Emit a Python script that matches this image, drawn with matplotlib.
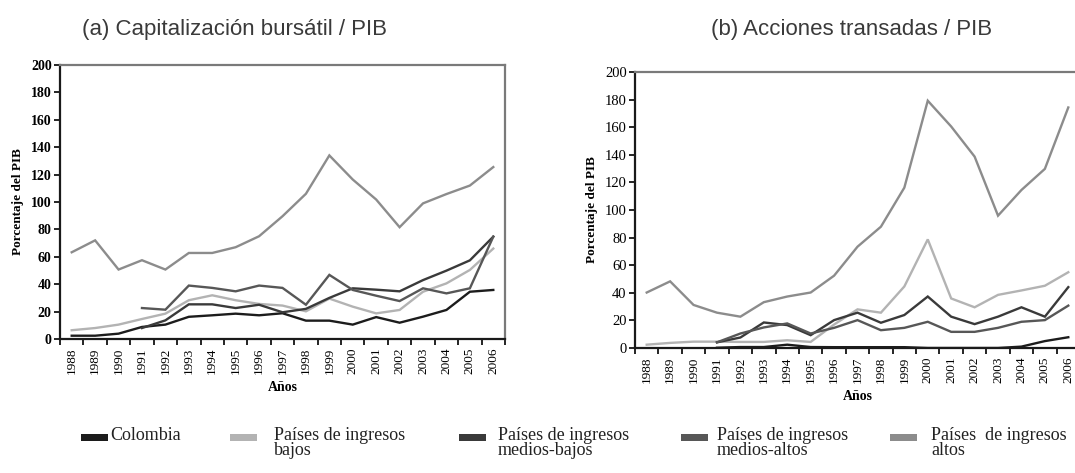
import numpy as np
import matplotlib
matplotlib.use("Agg")
import matplotlib.pyplot as plt
from matplotlib import font_manager as fm
from matplotlib.patches import Rectangle

# ---------------- data ----------------
years = [str(y) for y in range(1988, 2007)]
nan = np.nan

series_names = ["Colombia", "Países de ingresos\nbajos", "Países de ingresos\nmedios-bajos",
                "Países de ingresos\nmedios-altos", "Países  de ingresos\naltos"]
series_colors = ["#1c1c1c", "#b3b3b3", "#3a3a3a", "#575757", "#8c8c8c"]

# (a) Capitalización bursátil / PIB
cap_colombia = [2.4, 2.4, 3.9, 8.8, 10.5, 16.2, 17.3, 18.5, 17.3, 18.8, 13.4, 13.4, 10.5, 16.0, 11.9, 16.3, 21.2, 34.5, 35.8]
cap_bajos = [6.4, 8.0, 10.5, 14.6, 18.5, 28.3, 31.9, 28.3, 25.6, 24.4, 20.2, 29.5, 23.6, 18.7, 21.2, 34.5, 40.6, 50.4, 66.0]
cap_medios_bajos = [nan, nan, nan, 8.0, 13.6, 25.3, 25.3, 22.6, 25.0, 19.5, 22.0, 30.0, 37.0, 36.0, 34.8, 43.0, 49.9, 57.4, 74.7]
cap_medios_altos = [nan, nan, nan, 22.6, 21.4, 39.0, 37.3, 34.8, 39.0, 37.3, 25.0, 46.8, 35.8, 31.6, 27.7, 37.0, 33.3, 37.0, 74.7]
cap_altos = [63.3, 72.0, 50.7, 57.5, 50.7, 62.8, 62.8, 67.0, 75.0, 89.6, 106.0, 134.0, 116.4, 101.8, 81.6, 99.0, 105.8, 112.0, 125.5]

# (b) Acciones transadas / PIB
tra_colombia = [nan, nan, nan, 0.2, 0.7, 0.7, 2.4, 0.7, 0.6, 0.6, 0.6, 0.6, 0.0, 0.0, 0.0, 0.0, 1.0, 5.0, 7.8]
tra_bajos = [2.4, 3.7, 4.6, 4.6, 4.4, 4.4, 5.6, 4.4, 17.0, 28.0, 25.6, 44.6, 78.7, 35.9, 29.5, 38.5, 41.7, 45.1, 54.9]
tra_medios_bajos = [nan, nan, nan, 4.1, 7.6, 18.5, 16.6, 9.3, 20.2, 25.6, 18.3, 23.9, 37.3, 22.7, 17.3, 22.7, 29.5, 22.7, 44.1]
tra_medios_altos = [nan, nan, nan, 4.1, 10.5, 14.9, 17.8, 10.5, 14.6, 20.2, 12.9, 14.6, 19.0, 11.7, 11.7, 14.6, 19.0, 20.2, 30.7]
tra_altos = [40.2, 48.3, 31.2, 25.6, 22.7, 33.2, 37.3, 40.2, 52.4, 73.4, 87.9, 116.2, 179.2, 160.5, 138.7, 95.9, 114.5, 129.8, 174.3]

panel_titles = ["(a) Capitalización bursátil / PIB", "(b) Acciones transadas / PIB"]
y_ticks = list(range(0, 201, 20))
ylabel = "Porcentaje del PIB"
xlabel = "Años"

# ---------------- fonts ----------------
names = {f.name for f in fm.fontManager.ttflist}
title_font = "Liberation Sans Narrow" if "Liberation Sans Narrow" in names else "Liberation Sans"
serif = "Liberation Serif"

W, H = 1075, 473
fig = plt.figure(figsize=(W / 100, H / 100), dpi=100)

def px_axes(x0, y0, x1, y1):
    return [x0 / W, 1 - y1 / H, (x1 - x0) / W, (y1 - y0) / H]

panels = [
    dict(rect=px_axes(60, 65, 505, 339),
         data=[cap_colombia, cap_bajos, cap_medios_bajos, cap_medios_altos, cap_altos],
         bold=True),
    dict(rect=px_axes(635, 72, 1080, 348),
         data=[tra_colombia, tra_bajos, tra_medios_bajos, tra_medios_altos, tra_altos],
         bold=False),
]

x = np.arange(len(years))
axes = []
for p in panels:
    ax = fig.add_axes(p["rect"])
    axes.append(ax)
    for vals, col in zip(p["data"], series_colors):
        ax.plot(x, vals, color=col, lw=1.7, solid_joinstyle="miter", zorder=3)
    ax.set_xlim(-0.5, len(years) - 0.5)
    ax.set_ylim(0, 200)
    ax.set_yticks(y_ticks)
    ax.set_yticklabels([str(t) for t in y_ticks], fontfamily=serif,
                       fontsize=10 if p["bold"] else 10.5,
                       fontweight="bold" if p["bold"] else "normal")
    ax.set_xticks(x)
    ax.set_xticklabels(years, rotation=90, fontfamily=serif, fontsize=9.5)
    ax.set_xticks(np.arange(-0.5, len(years)), minor=True)
    ax.tick_params(axis="x", which="major", length=0, pad=6)
    ax.tick_params(axis="x", which="minor", length=4, width=1.2, direction="out")
    ax.tick_params(axis="y", length=4, width=1.2, direction="out", pad=2)
    for s in ("left", "bottom"):
        ax.spines[s].set_color("#1a1a1a")
        ax.spines[s].set_linewidth(1.6)
    for s in ("top", "right"):
        ax.spines[s].set_color("#7a7a7a")
        ax.spines[s].set_linewidth(1.6)
    ax.set_xlabel(xlabel, fontfamily=serif, fontsize=10, fontweight="bold", labelpad=5)
    ax.set_ylabel(ylabel, fontfamily=serif, fontsize=9.5, fontweight="bold", labelpad=5)

# titles
fig.text(235 / W, 1 - 30 / H, panel_titles[0], ha="center", va="center",
         fontfamily=title_font, fontsize=16, color="#3a3a3a")
fig.text(852 / W, 1 - 30 / H, panel_titles[1], ha="center", va="center",
         fontfamily=title_font, fontsize=16, color="#3a3a3a")

# legend (manual)
marker_x = [81, 230, 459, 681, 890]
text_x = [110, 274, 498, 717, 931]
for name, col, mx, tx in zip(series_names, series_colors, marker_x, text_x):
    fig.add_artist(Rectangle((mx / W, 1 - 441 / H), 27 / W, 7 / H,
                             transform=fig.transFigure, color=col, lw=0))
    fig.text(tx / W, 1 - 427 / H, name, ha="left", va="top", fontfamily=serif,
             fontsize=13, linespacing=0.88, color="#222222")

fig.savefig("out.png", dpi=100)
